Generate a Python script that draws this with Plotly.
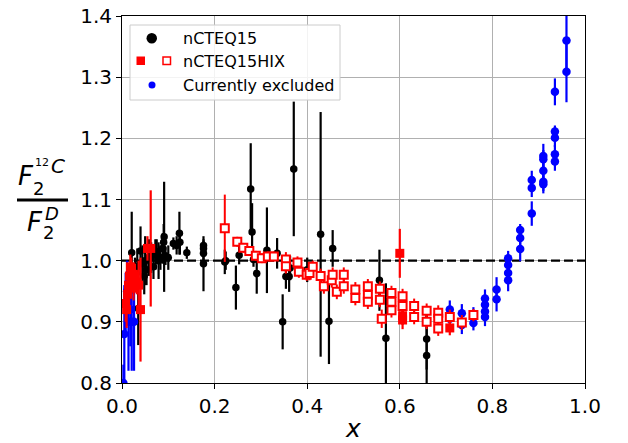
import plotly.graph_objects as go

# ---- data: (x, ratio, uncertainty) ----
ncteq15_x = [0.021, 0.028, 0.033, 0.035, 0.040, 0.044, 0.048, 0.050, 0.053, 0.058,
             0.063, 0.068, 0.072, 0.075, 0.079, 0.083, 0.088, 0.090, 0.091, 0.094,
             0.100, 0.111, 0.118, 0.124, 0.125, 0.140, 0.176, 0.176, 0.176, 0.176,
             0.222, 0.224, 0.246, 0.253, 0.278, 0.281, 0.284, 0.291, 0.313, 0.335,
             0.347, 0.354, 0.361, 0.363, 0.371, 0.400, 0.429, 0.447, 0.455, 0.556,
             0.570, 0.658, 0.658]
ncteq15_y = [1.013, 0.985, 0.990, 0.922, 1.016, 0.995, 0.975, 1.000, 0.985, 1.005,
             1.005, 0.990, 1.010, 1.015, 1.000, 1.005, 1.020, 1.030, 1.039, 1.008,
             1.005, 1.028, 1.025, 1.045, 1.030, 1.013, 1.025, 1.020, 1.012, 0.995,
             0.998, 1.000, 0.956, 1.009, 1.117, 1.047, 1.002, 0.979, 1.017, 1.012,
             0.900, 0.974, 0.974, 0.988, 1.150, 0.985, 1.043, 0.901, 1.020, 0.968,
             0.873, 0.872, 0.845]
ncteq15_err = [0.067, 0.020, 0.030, 0.060, 0.040, 0.030, 0.030, 0.040, 0.025, 0.030,
               0.025, 0.020, 0.025, 0.020, 0.030, 0.020, 0.025, 0.030, 0.090, 0.015,
               0.020, 0.010, 0.015, 0.035, 0.020, 0.010, 0.010, 0.012, 0.015, 0.045,
               0.020, 0.015, 0.036, 0.015, 0.075, 0.047, 0.012, 0.033, 0.070, 0.025,
               0.045, 0.020, 0.025, 0.020, 0.110, 0.020, 0.200, 0.070, 0.030, 0.050,
               0.090, 0.050, 0.070]

hix_filled_x = [0.008, 0.010, 0.012, 0.014, 0.016, 0.018, 0.020, 0.022, 0.025, 0.028,
                0.032, 0.036, 0.040, 0.055, 0.062, 0.600, 0.606, 0.606, 0.708]
hix_filled_y = [0.930, 0.920, 0.945, 0.960, 0.975, 0.990, 0.985, 0.970, 0.955, 0.975,
                0.965, 0.960, 0.920, 1.020, 1.020, 1.012, 0.910, 0.903, 0.890]
hix_filled_err = [0.030, 0.030, 0.030, 0.025, 0.020, 0.020, 0.020, 0.020, 0.020, 0.020,
                  0.020, 0.040, 0.085, 0.020, 0.095, 0.040, 0.015, 0.015, 0.012]

hix_open_x = [0.222, 0.249, 0.262, 0.275, 0.289, 0.302, 0.315, 0.328, 0.354, 0.354,
              0.379, 0.382, 0.399, 0.405, 0.412, 0.429, 0.436, 0.453, 0.455, 0.464,
              0.479, 0.479, 0.504, 0.504, 0.531, 0.531, 0.531, 0.557, 0.557, 0.561,
              0.582, 0.582, 0.582, 0.606, 0.606, 0.631, 0.631, 0.658, 0.658, 0.683,
              0.683, 0.683, 0.708, 0.734, 0.759]
hix_open_y = [1.053, 1.031, 1.021, 1.016, 1.008, 1.004, 1.007, 1.007, 1.002, 0.991,
              0.997, 0.982, 0.977, 0.980, 0.990, 0.975, 0.958, 0.968, 0.977, 0.949,
              0.977, 0.958, 0.953, 0.939, 0.958, 0.944, 0.933, 0.954, 0.936, 0.905,
              0.947, 0.933, 0.919, 0.942, 0.926, 0.926, 0.908, 0.918, 0.900, 0.915,
              0.905, 0.889, 0.908, 0.899, 0.911]
hix_open_err = [0.055, 0.008, 0.008, 0.008, 0.008, 0.008, 0.008, 0.008, 0.012, 0.012,
                0.010, 0.010, 0.010, 0.012, 0.010, 0.012, 0.012, 0.012, 0.012, 0.012,
                0.012, 0.012, 0.012, 0.012, 0.012, 0.012, 0.012, 0.012, 0.012, 0.015,
                0.012, 0.012, 0.012, 0.012, 0.012, 0.012, 0.012, 0.012, 0.012, 0.012,
                0.012, 0.012, 0.012, 0.012, 0.010]

excluded_x = [0.003, 0.005, 0.008, 0.011, 0.014, 0.018, 0.021, 0.026,
              0.708, 0.708, 0.734, 0.734, 0.759, 0.759, 0.784, 0.784, 0.784, 0.784,
              0.809, 0.809, 0.834, 0.834, 0.834, 0.834, 0.860, 0.860, 0.860,
              0.885, 0.885, 0.885, 0.910, 0.910, 0.910, 0.910, 0.910,
              0.935, 0.935, 0.935, 0.935, 0.935, 0.960, 0.960]
excluded_y = [0.800, 0.880, 0.930, 0.950, 0.900, 0.920, 0.900, 0.900,
              0.920, 0.905, 0.914, 0.895, 0.898, 0.912, 0.938, 0.928, 0.917, 0.908,
              0.953, 0.937, 1.004, 0.993, 0.980, 0.968, 1.050, 1.037, 1.019,
              1.132, 1.119, 1.077, 1.171, 1.166, 1.147, 1.129, 1.125,
              1.276, 1.211, 1.201, 1.174, 1.162, 1.360, 1.309]
excluded_err = [0.030, 0.080, 0.050, 0.050, 0.080, 0.060, 0.080, 0.080,
                0.015, 0.015, 0.015, 0.015, 0.012, 0.012, 0.015, 0.015, 0.015, 0.015,
                0.020, 0.020, 0.012, 0.015, 0.015, 0.018, 0.010, 0.015, 0.020,
                0.015, 0.015, 0.020, 0.020, 0.015, 0.020, 0.015, 0.015,
                0.022, 0.010, 0.015, 0.015, 0.015, 0.050, 0.050]

x_ticks = [0.0, 0.2, 0.4, 0.6, 0.8, 1.0]
y_ticks = [0.8, 0.9, 1.0, 1.1, 1.2, 1.3, 1.4]
unity = 1.0

legend_labels = ["nCTEQ15", "nCTEQ15HIX", "Currently excluded"]

FONT = "DejaVu Sans"
W, H = 628, 443
ML, MR, MT, MB = 122, 43, 16, 60
PW, PH = W - ML - MR, H - MT - MB


def px(xp):
    return (xp - ML) / PW


def py(yp):
    return (H - MB - yp) / PH


fig = go.Figure()

# reference line at ratio = 1
fig.add_trace(go.Scatter(x=[x_ticks[0], x_ticks[-1]], y=[unity, unity], mode="lines",
                         line=dict(color="black", width=2.4, dash="9px,4px"),
                         showlegend=False, hoverinfo="skip"))

fig.add_trace(go.Scatter(
    x=ncteq15_x, y=ncteq15_y, mode="markers", name=legend_labels[0],
    marker=dict(symbol="circle", size=7.5, color="black"),
    error_y=dict(type="data", array=ncteq15_err, color="black", thickness=2.2, width=0),
    showlegend=False))

fig.add_trace(go.Scatter(
    x=excluded_x, y=excluded_y, mode="markers", name=legend_labels[2],
    marker=dict(symbol="circle", size=8.5, color="blue"),
    error_y=dict(type="data", array=excluded_err, color="blue", thickness=2.2, width=0),
    showlegend=False))

fig.add_trace(go.Scatter(
    x=hix_filled_x, y=hix_filled_y, mode="markers", name=legend_labels[1],
    marker=dict(symbol="square", size=9, color="red"),
    error_y=dict(type="data", array=hix_filled_err, color="red", thickness=2.2, width=0),
    showlegend=False))

fig.add_trace(go.Scatter(
    x=hix_open_x, y=hix_open_y, mode="markers", name=legend_labels[1],
    marker=dict(symbol="square", size=8, color="white", line=dict(color="red", width=2)),
    error_y=dict(type="data", array=hix_open_err, color="red", thickness=2, width=0),
    showlegend=False))

# legend drawn by hand so one entry can carry two symbols
shapes = [
    dict(type="rect", xref="paper", yref="paper", x0=px(130), x1=px(340), y0=py(100), y1=py(25),
         line=dict(color="#cccccc", width=1), fillcolor="rgba(255,255,255,0.85)", layer="above"),
    dict(type="circle", xref="paper", yref="paper", x0=px(146.5), x1=px(157), y0=py(43.5), y1=py(33),
         line=dict(color="black", width=0), fillcolor="black", layer="above"),
    dict(type="rect", xref="paper", yref="paper", x0=px(136.5), x1=px(145), y0=py(65), y1=py(56.5),
         line=dict(color="red", width=0), fillcolor="red", layer="above"),
    dict(type="rect", xref="paper", yref="paper", x0=px(163), x1=px(170.5), y0=py(64.5), y1=py(57),
         line=dict(color="red", width=1.5), fillcolor="white", layer="above"),
    dict(type="circle", xref="paper", yref="paper", x0=px(148.5), x1=px(155.5), y0=py(88.5), y1=py(81.5),
         line=dict(color="blue", width=0), fillcolor="blue", layer="above"),
    # fraction bar of the y-axis title
    dict(type="line", xref="paper", yref="paper", x0=px(17), x1=px(68), y0=py(200), y1=py(200),
         line=dict(color="black", width=3)),
]

annotations = []
for label, yy in zip(legend_labels, [38, 61, 85]):
    annotations.append(dict(text=label, xref="paper", yref="paper", x=px(181), y=py(yy),
                            xanchor="left", yanchor="middle", showarrow=False,
                            font=dict(family=FONT, size=16, color="black")))


def ytitle_piece(text, xc, yc, size, italic=True):
    t = f"<i>{text}</i>" if italic else text
    annotations.append(dict(text=t, xref="paper", yref="paper", x=px(xc), y=py(yc),
                            xanchor="center", yanchor="middle", showarrow=False,
                            font=dict(family=FONT, size=size, color="black")))


# numerator F_2^{12C}
ytitle_piece("F", 26, 176, 26)
ytitle_piece("2", 38, 188, 18, italic=False)
ytitle_piece("12", 42, 162, 11, italic=False)
ytitle_piece("C", 58, 166, 20)
# denominator F_2^D
ytitle_piece("F", 35, 222, 26)
ytitle_piece("D", 52, 213, 18)
ytitle_piece("2", 48, 232, 18, italic=False)

# x-axis title
annotations.append(dict(text="<i>x</i>", xref="paper", yref="paper", x=px(353), y=py(428),
                        xanchor="center", yanchor="middle", showarrow=False,
                        font=dict(family=FONT, size=25, color="black")))

axis_common = dict(showgrid=True, gridcolor="#b0b0b0", gridwidth=1, zeroline=False,
                   showline=True, linecolor="black", linewidth=1, mirror=True,
                   ticks="outside", ticklen=5, tickwidth=1, tickcolor="black",
                   tickfont=dict(family=FONT, size=20, color="black"))

fig.update_layout(
    width=W, height=H,
    margin=dict(l=ML, r=MR, t=MT, b=MB),
    paper_bgcolor="white", plot_bgcolor="white",
    xaxis=dict(range=[x_ticks[0], x_ticks[-1]], tickvals=x_ticks,
               ticktext=[f"{v:.1f}" for v in x_ticks], automargin=False, **axis_common),
    yaxis=dict(range=[y_ticks[0], y_ticks[-1]], tickvals=y_ticks,
               ticktext=[f"{v:.1f}" for v in y_ticks], automargin=False, **axis_common),
    shapes=shapes, annotations=annotations, showlegend=False,
)

fig.write_html("out.html")
